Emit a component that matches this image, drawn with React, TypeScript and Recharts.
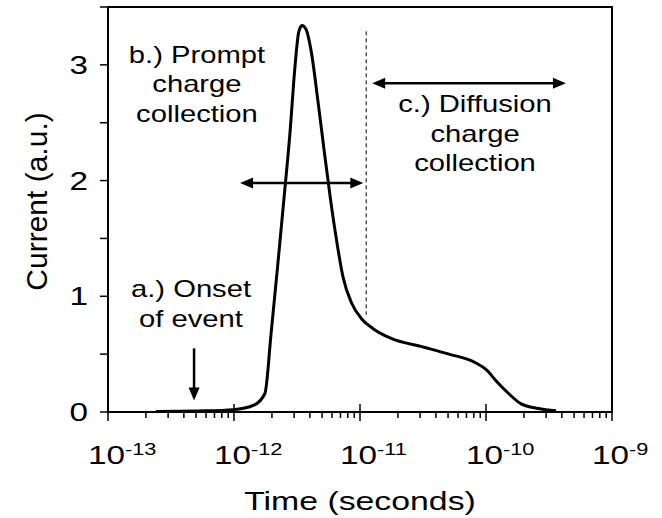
import {
  LineChart,
  Line,
  XAxis,
  YAxis,
  ReferenceArea,
  ReferenceLine,
  ReferenceDot,
  Label,
} from "recharts";

const FONT = "'Liberation Sans', Arial, Helvetica, sans-serif";
const STRETCH = 1.28;

// curve (seconds, a.u.)
const times = [
  2.4e-13, 6.0e-13, 9.8e-13, 1.44e-12, 1.76e-12, 1.97e-12, 2.22e-12, 2.49e-12,
  2.78e-12, 3.05e-12, 3.26e-12, 3.46e-12, 3.72e-12, 4.11e-12, 4.62e-12,
  5.18e-12, 5.83e-12, 6.57e-12, 7.32e-12, 8.59e-12, 1.04e-11, 1.27e-11,
  1.73e-11, 3.22e-11, 5.08e-11, 8.12e-11, 1.02e-10, 1.2e-10, 1.51e-10,
  1.9e-10, 2.59e-10, 3.6e-10,
];
const current = [
  0.005, 0.01, 0.02, 0.06, 0.16, 0.68, 1.26, 1.84, 2.41, 2.99, 3.28, 3.34,
  3.31, 3.11, 2.7, 2.27, 1.84, 1.46, 1.17, 0.94, 0.8, 0.72, 0.64, 0.56, 0.5,
  0.43, 0.36, 0.27, 0.16, 0.07, 0.03, 0.01,
];

const decades = [1e-13, 1e-12, 1e-11, 1e-10, 1e-9];
const minorSteps = [2, 3, 4, 5, 6, 7, 8, 9];
const yTicks = [0, 0.5, 1, 1.5, 2, 2.5, 3, 3.5];

const notes = [
  { t: 4.56e-13, v: 0.99, lines: ["a.) Onset", "of event"] },
  { t: 5.08e-13, v: 3.02, lines: ["b.) Prompt", "charge", "collection"] },
  { t: 8.18e-11, v: 2.59, lines: ["c.) Diffusion", "charge", "collection"] },
];

const arrows = [
  { t1: 1.117e-12, t2: 1.062e-11, v1: 1.98, v2: 1.98, both: true },
  { t1: 1.25e-11, t2: 4.31e-10, v1: 2.84, v2: 2.84, both: true },
  { t1: 4.82e-13, t2: 4.82e-13, v1: 0.55, v2: 0.1, both: false },
];

const divider = { t: 1.12e-11, v1: 3.29, v2: 0.84 };

const data = times.map((t, i) => ({ time: t, current: current[i] }));

const xTicks = [
  ...decades,
  ...decades.slice(0, -1).flatMap((d) => minorSteps.map((m) => m * d)),
].sort((a, b) => a - b);

function XTick({ x, y, payload }: any) {
  const v = payload.value;
  const exp = Math.round(Math.log10(v));
  const major = Math.abs(v - Math.pow(10, exp)) / v < 1e-6;
  return (
    <g>
      <line
        x1={x}
        x2={x}
        y1={major ? y - 8 : y}
        y2={major ? y + 9 : y + 6}
        stroke="#000"
        strokeWidth={1.5}
      />
      {major && (
        <text
          transform={`translate(${x - 20},${y + 52}) scale(${STRETCH},1)`}
          fontFamily={FONT}
          fontSize={26}
          fill="#000"
        >
          <tspan>10</tspan>
          <tspan dy={-9} fontSize={17}>
            {`${exp}`}
          </tspan>
        </text>
      )}
    </g>
  );
}

function YTick({ x, y, payload }: any) {
  const v = payload.value;
  return (
    <g>
      <line x1={x - 8} x2={x} y1={y} y2={y} stroke="#000" strokeWidth={1.5} />
      {Number.isInteger(v) && (
        <text
          transform={`translate(${x - 20},${y + 9}) scale(${STRETCH},1)`}
          textAnchor="end"
          fontFamily={FONT}
          fontSize={26}
          fill="#000"
        >
          {v}
        </text>
      )}
    </g>
  );
}

function XTitle({ viewBox }: any) {
  const { x, y, width } = viewBox;
  return (
    <text
      transform={`translate(${x + width / 2},${y + 98}) scale(1.3,1)`}
      textAnchor="middle"
      fontFamily={FONT}
      fontSize={26}
      fill="#000"
    >
      Time (seconds)
    </text>
  );
}

function YTitle({ viewBox }: any) {
  const { y, height } = viewBox;
  return (
    <text
      transform={`translate(47,${y + height / 2 - 8}) rotate(-90)`}
      textAnchor="middle"
      fontFamily={FONT}
      fontSize={30}
      fill="#000"
    >
      Current (a.u.)
    </text>
  );
}

function Note({ cx, cy, lines }: any) {
  return (
    <text
      transform={`translate(${cx},${cy}) scale(1.27,1)`}
      textAnchor="middle"
      fontFamily={FONT}
      fontSize={23}
      fill="#000"
    >
      {lines.map((s: string, i: number) => (
        <tspan key={i} x={0} dy={i === 0 ? 0 : 29.5}>
          {s}
        </tspan>
      ))}
    </text>
  );
}

function head(px: number, py: number, ux: number, uy: number) {
  const len = 13;
  const half = 5.5;
  const bx = px - ux * len;
  const by = py - uy * len;
  return `${px},${py} ${bx - uy * half},${by + ux * half} ${bx + uy * half},${by - ux * half}`;
}

function Arrow(both: boolean) {
  return ({ x1, y1, x2, y2 }: any) => {
    const dx = x2 - x1;
    const dy = y2 - y1;
    const d = Math.hypot(dx, dy) || 1;
    const ux = dx / d;
    const uy = dy / d;
    const sx = both ? x1 + ux * 10 : x1;
    const sy = both ? y1 + uy * 10 : y1;
    return (
      <g>
        <line
          x1={sx}
          y1={sy}
          x2={x2 - ux * 10}
          y2={y2 - uy * 10}
          stroke="#000"
          strokeWidth={2.5}
        />
        <polygon points={head(x2, y2, ux, uy)} fill="#000" />
        {both && <polygon points={head(x1, y1, -ux, -uy)} fill="#000" />}
      </g>
    );
  };
}

export default function App() {
  return (
    <div style={{ position: "absolute", left: 0, top: 0, background: "#fff" }}>
      <LineChart
        width={662}
        height={518}
        data={data}
        margin={{ top: 7, right: 50, bottom: 0, left: 0 }}
      >
        <XAxis
          dataKey="time"
          type="number"
          scale="log"
          domain={[1e-13, 1e-9]}
          allowDataOverflow
          ticks={xTicks}
          interval={0}
          tick={<XTick />}
          tickLine={false}
          tickSize={0}
          tickMargin={0}
          height={106}
          axisLine={{ stroke: "#000", strokeWidth: 2 }}
        >
          <Label content={<XTitle />} />
        </XAxis>
        <YAxis
          type="number"
          domain={[0, 3.5]}
          ticks={yTicks}
          interval={0}
          tick={<YTick />}
          tickLine={false}
          tickSize={0}
          tickMargin={0}
          width={108}
          axisLine={{ stroke: "#000", strokeWidth: 2 }}
        >
          <Label content={<YTitle />} />
        </YAxis>
        <ReferenceArea
          x1={1e-13}
          x2={1e-9}
          y1={0}
          y2={3.5}
          fill="none"
          stroke="#000"
          strokeWidth={2}
          fillOpacity={0}
        />
        <ReferenceLine
          segment={[
            { x: divider.t, y: divider.v1 },
            { x: divider.t, y: divider.v2 },
          ]}
          stroke="#000"
          strokeWidth={1}
          strokeDasharray="4 3"
        />
        {arrows.map((a, i) => (
          <ReferenceLine
            key={i}
            segment={[
              { x: a.t1, y: a.v1 },
              { x: a.t2, y: a.v2 },
            ]}
            shape={Arrow(a.both)}
          />
        ))}
        {notes.map((n, i) => (
          <ReferenceDot
            key={i}
            x={n.t}
            y={n.v}
            r={0}
            shape={(p: any) => <Note {...p} lines={n.lines} />}
          />
        ))}
        <Line
          type="monotone"
          dataKey="current"
          stroke="#000"
          strokeWidth={3}
          dot={false}
          isAnimationActive={false}
        />
      </LineChart>
    </div>
  );
}
